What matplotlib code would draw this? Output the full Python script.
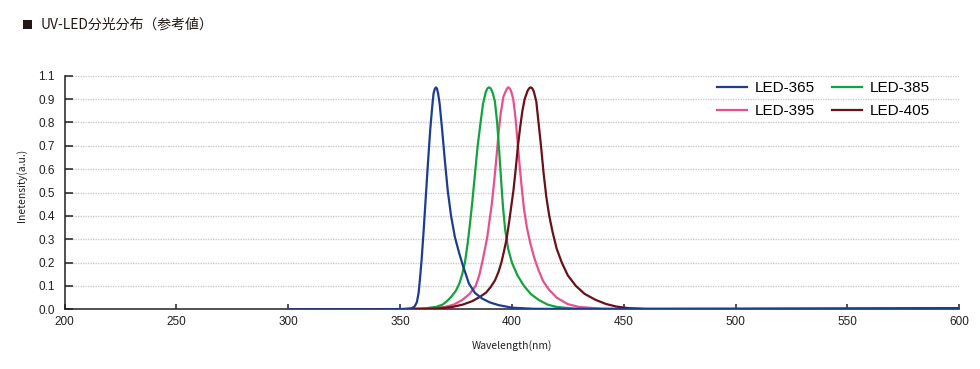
import numpy as np
import matplotlib
matplotlib.use('Agg')
import matplotlib.pyplot as plt
from matplotlib.patches import Rectangle

# Data (wavelength in nm, relative intensity)
wl_365 = [300, 345, 352, 355, 356.5, 357.5, 358.3, 359, 359.7, 360.5, 361.5, 362.5, 363.5,
          364.5, 365, 365.5, 366, 366.5, 367, 367.7, 368.8, 370, 371.3, 372.8, 374.5, 376.3,
          378, 380.8, 383.5, 386.7, 390, 394, 400, 410, 450, 500, 550, 600]
int_365 = [0, 0, 0.001, 0.004, 0.012, 0.03, 0.07, 0.14, 0.22, 0.33, 0.48, 0.63, 0.77,
           0.88, 0.925, 0.942, 0.95, 0.945, 0.925, 0.88, 0.77, 0.64, 0.51, 0.4, 0.31, 0.245,
           0.19, 0.11, 0.07, 0.046, 0.03, 0.018, 0.007, 0.002, 0.001, 0.002, 0.003, 0.005]

wl_385 = [300, 340, 355, 362, 366, 369, 371, 373, 375, 376.5, 377.8, 379, 380.2, 381.3,
          382.3, 383.5, 384.7, 386, 387.1, 388.3, 389.1, 389.8, 390.5, 391.3, 392.4, 393.4,
          394.3, 395.2, 396, 397, 398.3, 400, 402.5, 405.4, 408.5, 412, 416, 420, 428, 445, 600]
int_385 = [0, 0, 0.002, 0.005, 0.01, 0.02, 0.035, 0.055, 0.08, 0.11, 0.15, 0.2, 0.28, 0.37,
           0.46, 0.58, 0.7, 0.8, 0.88, 0.93, 0.946, 0.95, 0.946, 0.93, 0.89, 0.8,
           0.68, 0.55, 0.44, 0.34, 0.26, 0.2, 0.145, 0.1, 0.065, 0.04, 0.02, 0.01, 0.003, 0.001, 0.001]

wl_395 = [300, 350, 360, 370, 374, 377.8, 381, 383.8, 385.4, 386.7, 388, 389, 390, 391,
          392, 393, 394, 395, 396.2, 397.3, 397.9, 398.4, 399, 399.6, 400.6, 401.6, 402.7,
          403.6, 404.4, 405.4, 406.7, 408.3, 410, 412, 414, 416.5, 420, 425, 430, 440, 460, 600]
int_395 = [0, 0.001, 0.003, 0.01, 0.02, 0.04, 0.065, 0.1, 0.145, 0.2, 0.26, 0.31, 0.38, 0.45,
           0.54, 0.64, 0.75, 0.84, 0.91, 0.935, 0.946, 0.95, 0.946, 0.935, 0.9, 0.82, 0.7,
           0.6, 0.52, 0.43, 0.35, 0.28, 0.22, 0.165, 0.12, 0.085, 0.05, 0.022, 0.01, 0.003, 0.001, 0.001]

wl_405 = [300, 360, 368, 373.3, 378, 382.3, 386, 388.5, 390.5, 392.5, 394, 395.3, 396.5,
          397.6, 398.7, 399.7, 400.7, 401.7, 402.7, 403.7, 404.7, 405.7, 407, 407.7, 408.4,
          409.1, 409.8, 410.9, 411.9, 413, 414.2, 415.4, 416.7, 418.2, 420, 422.3, 425, 428.6,
          432.5, 437.5, 442, 446.5, 452, 460, 500, 600]
int_405 = [0, 0.001, 0.004, 0.01, 0.02, 0.035, 0.055, 0.072, 0.095, 0.125, 0.16, 0.2, 0.25,
           0.3, 0.37, 0.44, 0.51, 0.6, 0.7, 0.78, 0.85, 0.9, 0.935, 0.946, 0.95,
           0.946, 0.932, 0.89, 0.8, 0.7, 0.58, 0.48, 0.4, 0.33, 0.26, 0.2, 0.145, 0.1,
           0.066, 0.04, 0.023, 0.012, 0.005, 0.002, 0.002, 0.004]

labels = ['LED-365', 'LED-385', 'LED-395', 'LED-405']
colors = ['#1c3d92', '#13a33c', '#e8508d', '#6b1016']

y_ticks = [0.0, 0.1, 0.2, 0.3, 0.4, 0.5, 0.6, 0.7, 0.8, 0.9, 1.0]
y_ticklabels = ['0.0', '0.1', '0.2', '0.3', '0.4', '0.5', '0.6', '0.7', '0.8', '0.9', '1.1']
x_ticks = [200, 250, 300, 350, 400, 450, 500, 550, 600]

dark = '#231f20'
jp = ['Noto Sans CJK JP', 'DejaVu Sans']
num = ['Liberation Sans', 'DejaVu Sans']

fig = plt.figure(figsize=(9.8, 3.69), dpi=100)
ax = fig.add_axes([64.5/980, 1 - 309.3/369, (959.3 - 64.5)/980, (309.3 - 75.7)/369])

series = [(wl_365, int_365), (wl_385, int_385), (wl_395, int_395), (wl_405, int_405)]
zorders = [6, 4, 3, 5]
handles = []
for (wl, val), lab, col, z in zip(series, labels, colors, zorders):
    h, = ax.plot(wl, val, color=col, lw=1.6, label=lab, zorder=z, solid_joinstyle='round')
    handles.append(h)

ax.set_xlim(200, 600)
ax.set_ylim(0, 1.0)
ax.set_xticks(x_ticks)
ax.set_yticks(y_ticks)
ax.set_yticklabels(y_ticklabels)

for y in y_ticks[1:]:
    ax.axhline(y, color='#cccccc', lw=1.0, ls=(0, (1, 0.8)), zorder=1)

for s in ['top', 'right']:
    ax.spines[s].set_visible(False)
for s in ['left', 'bottom']:
    ax.spines[s].set_color(dark)
    ax.spines[s].set_linewidth(1.1)

ax.tick_params(axis='y', direction='in', length=6, width=1.1, color=dark, pad=7)
ax.tick_params(axis='x', direction='in', length=3.5, width=1.1, color=dark, pad=5)
for t in ax.get_xticklabels() + ax.get_yticklabels():
    t.set_family(num)
    t.set_fontsize(8.5)
    t.set_color(dark)

fig.text(512/980, 1 - 346/369, 'Wavelength(nm)', ha='center', va='center',
         fontsize=7.5, family=jp, color=dark)
fig.text(22/980, 1 - 185.5/369, 'Inetensity(a.u.)', ha='center', va='center',
         rotation=90, fontsize=7.5, family=jp, color=dark)

# title with black square marker
fig.patches.append(Rectangle((22.7/980, 1 - 29.3/369), 9/980, 9.3/369,
                             transform=fig.transFigure, facecolor='#231815',
                             edgecolor='none'))
fig.text(40.5/980, 1 - 25/369, 'UV-LED分光分布（参考値）', ha='left', va='center',
         fontsize=10, family=jp, color='#231815')

# legend filled row by row: 365, 385 / 395, 405
order = [0, 2, 1, 3]
leg = ax.legend(handles=[handles[i] for i in order], labels=[labels[i] for i in order],
                ncol=2, loc='upper left',
                bbox_to_anchor=(716.7/980, 1 - 81.5/369), bbox_transform=fig.transFigure,
                frameon=False, borderpad=0, borderaxespad=0, handlelength=1.96,
                handletextpad=0.54, columnspacing=1.09, labelspacing=0.58,
                prop={'family': num, 'size': 11})
for line in leg.get_lines():
    line.set_linewidth(1.6)

fig.savefig('out.png', dpi=100)
